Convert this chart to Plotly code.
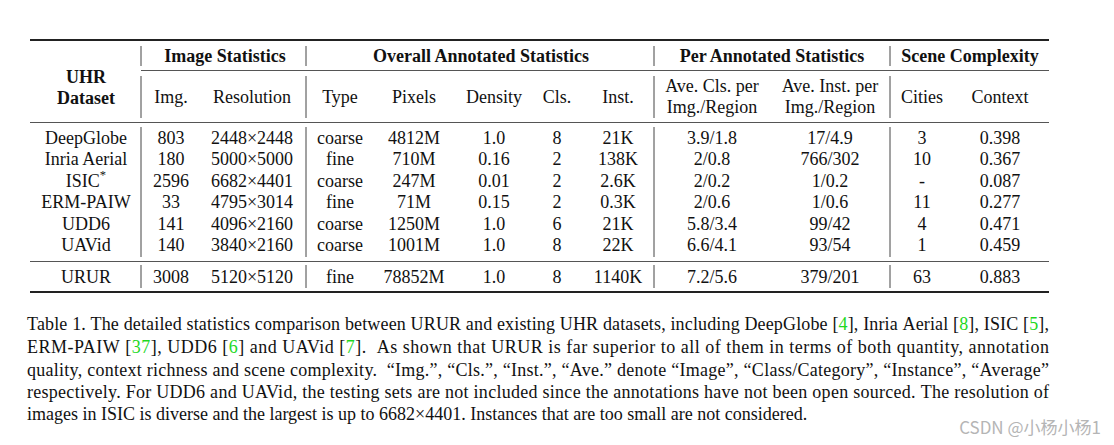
import plotly.graph_objects as go

# ---- table data ----
datasets = ["DeepGlobe", "Inria Aerial", "ISIC<sup>*</sup>", "ERM-PAIW", "UDD6", "UAVid", "URUR"]
img_count = [803, 180, 2596, 33, 141, 140, 3008]
resolution = ["2448×2448", "5000×5000", "6682×4401", "4795×3014", "4096×2160", "3840×2160", "5120×5120"]
ann_type = ["coarse", "fine", "coarse", "fine", "coarse", "coarse", "fine"]
pixels = ["4812M", "710M", "247M", "71M", "1250M", "1001M", "78852M"]
density = [1.0, 0.16, 0.01, 0.15, 1.0, 1.0, 1.0]
n_cls = [8, 2, 2, 2, 6, 8, 8]
n_inst = ["21K", "138K", "2.6K", "0.3K", "21K", "22K", "1140K"]
ave_cls = ["3.9/1.8", "2/0.8", "2/0.2", "2/0.6", "5.8/3.4", "6.6/4.1", "7.2/5.6"]
ave_inst = ["17/4.9", "766/302", "1/0.2", "1/0.6", "99/42", "93/54", "379/201"]
cities = [3, 10, None, 11, 4, 1, 63]
context = [0.398, 0.367, 0.087, 0.277, 0.471, 0.459, 0.883]

group_headers = ["Image Statistics", "Overall Annotated Statistics",
                 "Per Annotated Statistics", "Scene Complexity"]
col_headers = ["<b>UHR</b><br><b>Dataset</b>", "Img.", "Resolution", "Type", "Pixels", "Density", "Cls.", "Inst.",
               "Ave. Cls. per<br>Img./Region", "Ave. Inst. per<br>Img./Region", "Cities", "Context"]

G = "<span style='color:#1ed81e'>%s</span>"
caption_lines = [
    "Table 1. The detailed statistics comparison between URUR and existing UHR datasets, including DeepGlobe ["
    + G % "4" + "], Inria Aerial [" + G % "8" + "], ISIC [" + G % "5" + "],",
    "ERM-PAIW [" + G % "37" + "], UDD6 [" + G % "6" + "] and UAVid [" + G % "7"
    + "].  As shown that URUR is far superior to all of them in terms of both quantity, annotation",
    "quality, context richness and scene complexity.  “Img.”, “Cls.”, “Inst.”, “Ave.” denote “Image”, "
    "“Class/Category”, “Instance”, “Average”",
    "respectively. For UDD6 and UAVid, the testing sets are not included since the annotations have not "
    "been open sourced. The resolution of",
    "images in ISIC is diverse and the largest is up to 6682×4401. Instances that are too small are not considered.",
]
watermark = "CSDN @小杨小杨1"

# ---- layout (pixel space) ----
W, H = 1114, 445
FONT = "Liberation Serif, Times New Roman, serif"
col_x = [86, 171, 252, 340, 414, 494, 557, 618, 712, 830, 922, 1000]
group_x = [225, 481, 772, 970]
group_y = 57
head_y = [88.5] + [98] * 11      # first header spans both header rows
line_gap = 21
row_y = [139, 160.5, 182, 203.5, 225, 246.5, 278]
left, right = 30, 1049
vlines = [141, 306, 654, 890]
cap_y = [325, 348, 371, 393, 415]

columns = [datasets, img_count, resolution, ann_type, pixels, density, n_cls, n_inst,
           ave_cls, ave_inst, cities, context]

cx, cy, ct = [], [], []
for x, col in zip(col_x, columns):
    for y, v in zip(row_y, col):
        cx.append(x)
        cy.append(y)
        ct.append("-" if v is None else str(v))

# column headers, two-line ones split around the header row
hx, hy, ht = [], [], []
for x, y, h in zip(col_x, head_y, col_headers):
    parts = h.split("<br>")
    top = y - line_gap * (len(parts) - 1) / 2
    for k, p in enumerate(parts):
        hx.append(x)
        hy.append(top + k * line_gap)
        ht.append(p)

# caption: non-breaking spaces so a line can never be broken by the browser
cap_text = []
for line in caption_lines:
    out, in_tag = "", False
    for ch in line:
        if ch == "<":
            in_tag = True
        elif ch == ">":
            in_tag = False
        out += "\u00a0" if (ch == " " and not in_tag) else ch
    cap_text.append(out)

base_font = dict(family=FONT, size=18, color="#111")
fig = go.Figure()
fig.add_trace(go.Scatter(x=cx, y=cy, text=ct, mode="text", textposition="middle center",
                         textfont=base_font, hoverinfo="skip"))
fig.add_trace(go.Scatter(x=hx, y=hy, text=ht, mode="text", textposition="middle center",
                         textfont=base_font, hoverinfo="skip"))
fig.add_trace(go.Scatter(x=group_x, y=[group_y] * 4, text=["<b>%s</b>" % g for g in group_headers],
                         mode="text", textposition="middle center", textfont=base_font, hoverinfo="skip"))
fig.add_trace(go.Scatter(x=[left - 3] * len(cap_text), y=cap_y, text=cap_text, mode="text",
                         textposition="middle right", textfont=base_font, hoverinfo="skip"))
fig.add_trace(go.Scatter(x=[1101], y=[430], text=[watermark], mode="text", textposition="middle left",
                         textfont=dict(family="Noto Sans CJK SC", size=17, color="#b5b5b5"),
                         hoverinfo="skip"))

# rules
thick = dict(color="#222", width=2)
thin = dict(color="#555", width=1)
fig.add_shape(type="line", x0=left, x1=right, y0=40, y1=40, line=thick)
fig.add_shape(type="line", x0=vlines[0], x1=right, y0=70.5, y1=70.5, line=thin)
fig.add_shape(type="line", x0=left, x1=right, y0=122.5, y1=122.5, line=thin)
fig.add_shape(type="line", x0=left, x1=right, y0=261.5, y1=261.5, line=thin)
fig.add_shape(type="line", x0=left, x1=right, y0=292, y1=292, line=thick)
for vx in vlines:
    for y0, y1 in [(46, 66), (76, 118), (127, 257), (265, 288)]:
        fig.add_shape(type="line", x0=vx, x1=vx, y0=y0, y1=y1, line=dict(color="#444", width=1))

fig.update_layout(
    width=W, height=H, margin=dict(l=0, r=0, t=0, b=0),
    paper_bgcolor="white", plot_bgcolor="white", showlegend=False,
    xaxis=dict(range=[0, W], visible=False, fixedrange=True),
    yaxis=dict(range=[H, 0], visible=False, fixedrange=True),
)

# drop the page margin, then stretch the long caption lines to the full text width (justified)
justify_js = """
document.body.style.margin = '0';
var gd = document.getElementsByClassName('plotly-graph-div')[0];
var box = gd.getBoundingClientRect();
gd.querySelectorAll('g.textpoint text').forEach(function(t){
  var w = t.getComputedTextLength();
  if (w < 900) return;
  var r = t.getBoundingClientRect();
  var target = %d - (r.left - box.left);
  if (target > w) {
    t.setAttribute('textLength', target.toFixed(2));
    t.setAttribute('lengthAdjust', 'spacing');
  }
});
""" % right

fig.write_html("out.html", config={"displayModeBar": False}, post_script=justify_js)
